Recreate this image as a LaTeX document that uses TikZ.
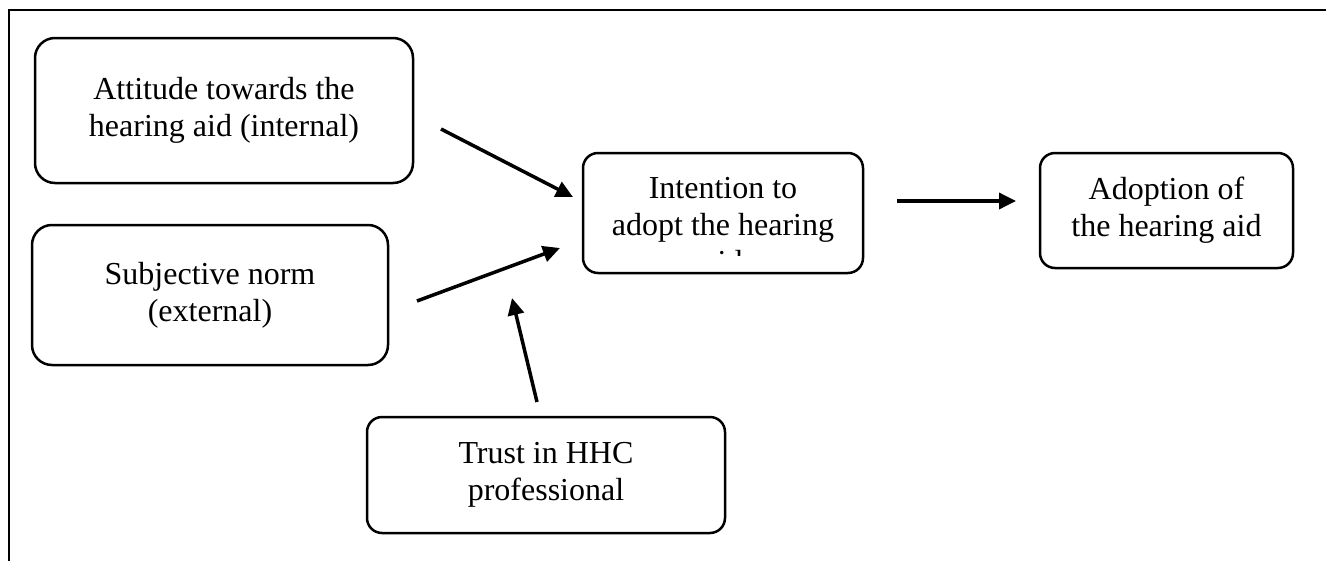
\documentclass[tikz,border=0pt]{standalone}
\usepackage{fontspec}
\setmainfont{Liberation Serif}
\usetikzlibrary{arrows.meta}

\tikzset{
  box/.style={draw=black, line width=2.5pt, inner sep=0pt, align=center,
    font=\fontsize{32}{37}\selectfont},
  bigbox/.style={box, rounded corners=20pt},
  smallbox/.style={box, rounded corners=15pt},
  link/.style={line width=3.5pt, -{Triangle[length=17pt,width=16pt]}},
  frame/.style={line width=2.5pt, line join=miter}
}

\begin{document}
\begin{tikzpicture}[x=1pt, y=-1pt]
  \useasboundingbox (0,0) rectangle (1326,560);
  \clip (0,0) rectangle (1326,560);

  % surrounding frame (only top and left edges fall inside the page)
  \draw[frame] (1340,10) -- (9,10) -- (9,580);

  % boxes
  \node[bigbox, minimum width=378pt, minimum height=145pt] (att) at (224,110.5)
    {Attitude towards the\\hearing aid (internal)};
  \node[bigbox, minimum width=356pt, minimum height=140pt] (subj) at (210,295)
    {Subjective norm\\(external)};
  \node[smallbox, minimum width=280pt, minimum height=120pt] (int) at (723,213) {};
  \node[smallbox, minimum width=253pt, minimum height=115pt] (adopt) at (1166.5,210.5)
    {Adoption of\\the hearing aid};
  \node[smallbox, minimum width=358pt, minimum height=116pt] (trust) at (546,475)
    {Trust in HHC\\professional};

  % text of the intention box, cut off by the box like an overfull text frame
  \begin{scope}
    \clip (int.north west) rectangle ([yshift=19pt]int.south east);
    \node[box, draw=none, anchor=north] (inttext) at ([yshift=-24pt]int.north)
      {Intention to\\adopt the hearing\\aid};
  \end{scope}

  % arrow end points
  \coordinate (a1) at (441,129);  \coordinate (a2) at (573,197);
  \coordinate (s1) at (417,301);  \coordinate (s2) at (560,248);
  \coordinate (t1) at (537,402);  \coordinate (t2) at (512,298);
  \coordinate (i1) at (897,201);  \coordinate (i2) at (1016,201);

  % connectors
  \draw[link] (a1) -- (a2);
  \draw[link] (s1) -- (s2);
  \draw[link] (t1) -- (t2);
  \draw[link] (i1) -- (i2);
\end{tikzpicture}
\end{document}
